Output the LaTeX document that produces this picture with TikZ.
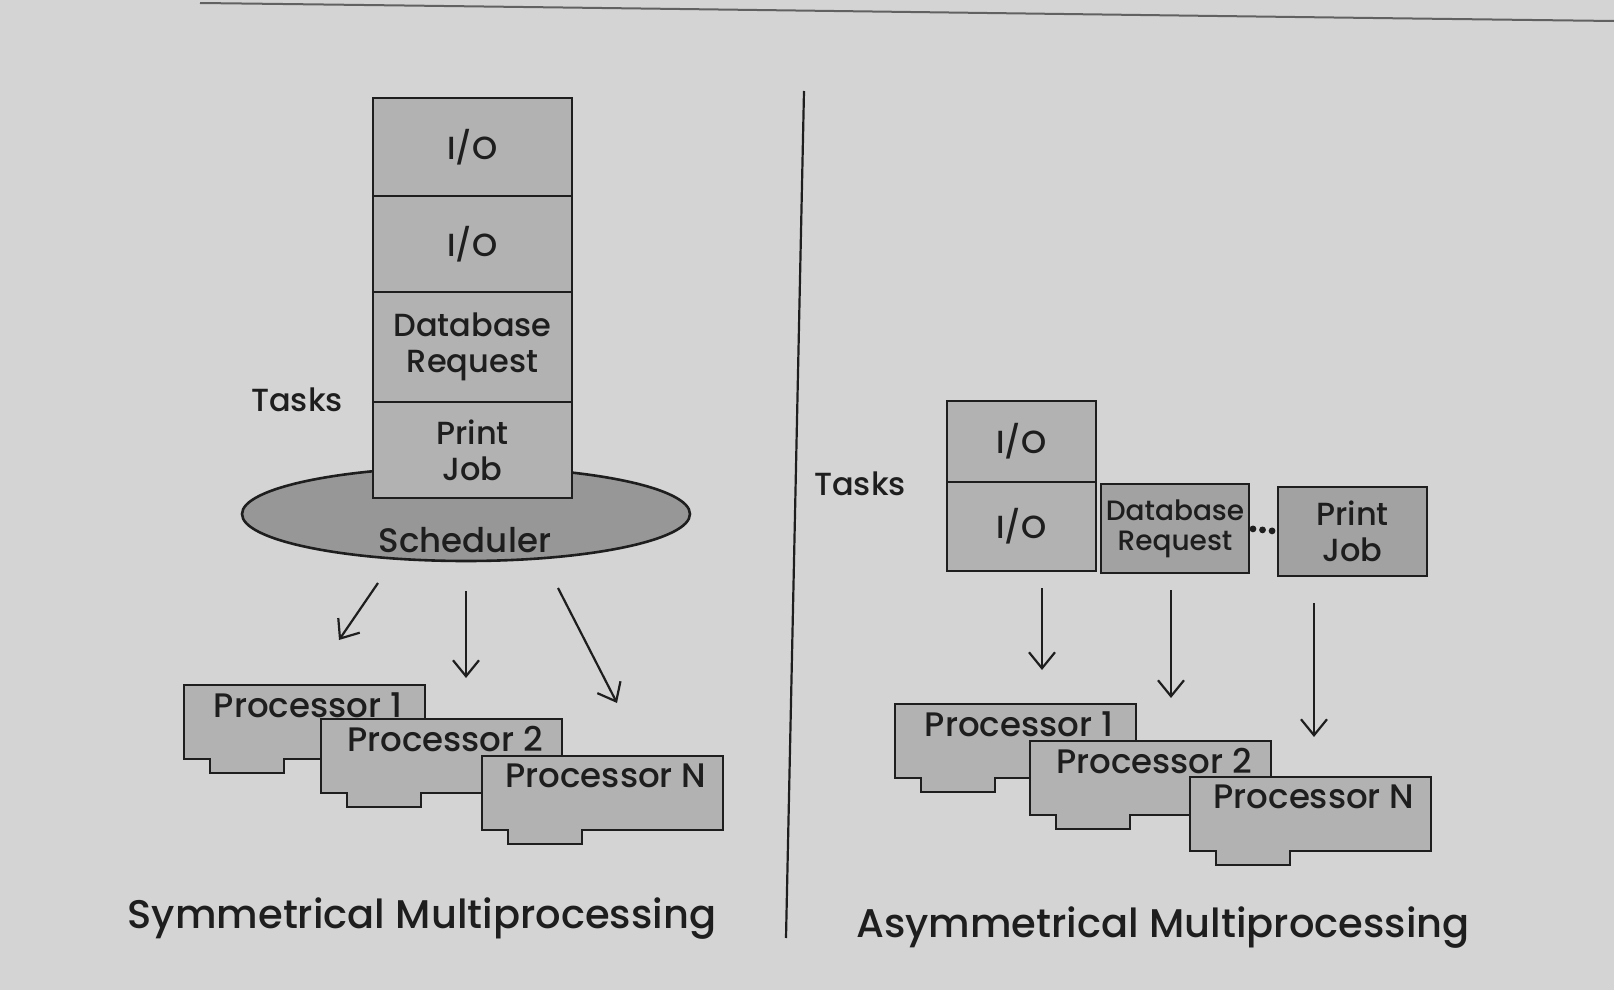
\documentclass[tikz,border=0pt]{standalone}
\usepackage{fontspec}
\setmainfont{Poppins Medium}
\usetikzlibrary{arrows.meta,positioning,shapes.geometric}

\definecolor{paper}{HTML}{D4D4D4}
\definecolor{boxgray}{HTML}{B2B2B2}
\definecolor{darkbox}{HTML}{A2A2A2}
\definecolor{schedgray}{HTML}{979797}
\definecolor{ink}{HTML}{1E1E1E}

\tikzset{
  task/.style={draw=ink, fill=boxgray, line width=1.3pt, inner sep=0pt, outer sep=0pt,
    text=ink, align=center, font=\fontsize{16}{18}\selectfont},
  card/.style={draw=ink, fill=boxgray, line width=1.3pt},
  proclabel/.style={text=ink, inner sep=0pt, font=\fontsize{17}{20}\selectfont},
  plain/.style={text=ink, inner sep=0pt, font=\fontsize{16}{18}\selectfont},
  title/.style={text=ink, inner sep=0pt, font=\fontsize{20}{24}\selectfont},
  flow/.style={draw=ink, line width=1.1pt, -{Straight Barb[length=8pt,width=13pt]}}
}

% a processor card, top left corner at (#2,#3)
\newcommand{\proccard}[4]{%
  \filldraw[card] (#2,#3) -- ++(241,0) -- ++(0,74) -- ++(-141,0) -- ++(0,14)
    -- ++(-74,0) -- ++(0,-14) -- ++(-26,0) -- cycle;
  \node[proclabel] (#1) at (#2+124,#3+20) {#4};
}

\begin{document}
\begin{tikzpicture}[x=0.5pt,y=-0.5pt]
  \useasboundingbox (0,0) rectangle (1614,990);
  \fill[paper] (0,0) rectangle (1614,990);
  \draw[ink!70, line width=1pt] (200,3) .. controls (700,9) and (1200,16) .. (1614,21); % page edge

  % symmetrical side
  \node[ellipse, draw=ink, fill=schedgray, line width=1.3pt, minimum width=224pt,
    minimum height=47pt, inner sep=0pt] (sched) at (466,514) {};
  \node[task, minimum width=99.5pt, minimum height=49pt] (sio1) at (472.5,147) {I/O};
  \node[task, minimum width=99.5pt, minimum height=48pt, below=0pt of sio1] (sio2) {I/O};
  \node[task, minimum width=99.5pt, minimum height=55pt, below=0pt of sio2] (sdb) {Database\\Request};
  \node[task, minimum width=99.5pt, minimum height=48pt, below=0pt of sdb] (spj) {Print\\Job};
  \node[plain] (stasks) at (297,400) {Tasks};
  \node[plain, font=\fontsize{17}{20}\selectfont] (schedtext) at (465,540) {Scheduler};

  \coordinate (sa1) at (378,583); \coordinate (sb1) at (339,640);
  \coordinate (sa2) at (466,591); \coordinate (sb2) at (466,678);
  \coordinate (sa3) at (558,588); \coordinate (sb3) at (617,703);
  \foreach \i in {1,2,3} { \draw[flow] (sa\i) -- (sb\i); }

  \proccard{sp1}{184}{685}{Processor 1}
  \proccard{sp2}{321}{719}{Processor 2}
  \proccard{spn}{482}{756}{Processor N}

  \node[title] (stitle) at (422,919) {Symmetrical Multiprocessing};

  % divider
  \coordinate (dtop) at (804,91);
  \coordinate (dbot) at (786,938);
  \draw[ink, line width=1.1pt] (dtop) -- (dbot);

  % asymmetrical side
  \node[task, minimum width=74.5pt, minimum height=40.5pt] (aio1) at (1021.5,441.5) {I/O};
  \node[task, minimum width=74.5pt, minimum height=44.5pt, below=0pt of aio1] (aio2) {I/O};
  \node[task, fill=darkbox, minimum width=74pt, minimum height=44.5pt,
    font=\fontsize{14}{15}\selectfont] (adb) at (1175,528.5) {Database\\Request};
  \node[task, fill=darkbox, minimum width=74.5pt, minimum height=44.5pt] (apj) at (1352.5,531.5) {Print\\Job};
  \draw[ink, line width=3.4pt, line cap=round, dash pattern=on 0pt off 4.8pt,
    shorten <=2pt, shorten >=2pt] (adb.east) -- (apj.west);
  \node[plain] (atasks) at (860,484) {Tasks};

  \coordinate (aa1) at (1042,588); \coordinate (ab1) at (1042,670);
  \coordinate (aa2) at (1171,590); \coordinate (ab2) at (1171,698);
  \coordinate (aa3) at (1314,603); \coordinate (ab3) at (1314,737);
  \foreach \i in {1,2,3} { \draw[flow] (aa\i) -- (ab\i); }

  \proccard{ap1}{895}{704}{Processor 1}
  \proccard{ap2}{1030}{741}{Processor 2}
  \proccard{apn}{1190}{777}{Processor N}

  \node[title] (atitle) at (1163,928) {Asymmetrical Multiprocessing};
\end{tikzpicture}
\end{document}
